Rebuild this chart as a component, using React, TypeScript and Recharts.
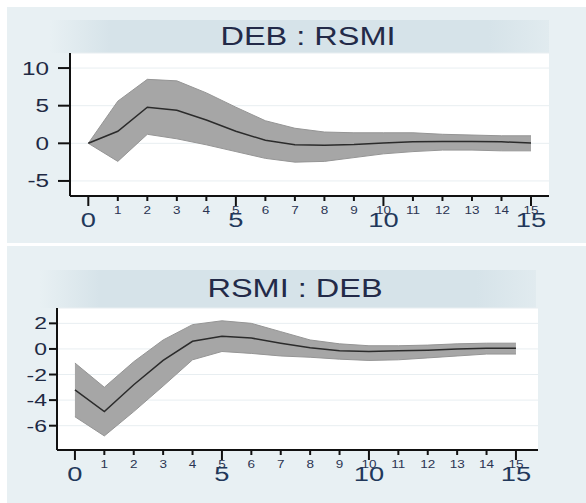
import React from 'react';
import { ComposedChart, Area, Line, XAxis, YAxis, CartesianGrid } from 'recharts';

// horizon (steps)
const periods = [0, 1, 2, 3, 4, 5, 6, 7, 8, 9, 10, 11, 12, 13, 14, 15];

// DEB : RSMI
const debRsmiIrf = [0, 1.6, 4.8, 4.4, 3.1, 1.6, 0.4, -0.2, -0.25, -0.15, 0.05, 0.2, 0.25, 0.25, 0.2, 0.05];
const debRsmiLow = [0, -2.4, 1.2, 0.6, -0.2, -1.1, -2.0, -2.5, -2.4, -1.9, -1.4, -1.1, -0.9, -0.9, -1.0, -1.0];
const debRsmiHigh = [0, 5.6, 8.5, 8.3, 6.7, 4.8, 3.0, 2.0, 1.5, 1.4, 1.4, 1.4, 1.2, 1.1, 1.0, 1.0];

// RSMI : DEB
const rsmiDebIrf = [-3.2, -4.9, -2.8, -0.9, 0.6, 1.0, 0.85, 0.45, 0.1, -0.15, -0.2, -0.15, -0.1, 0, 0.05, 0.05];
const rsmiDebLow = [-5.3, -6.8, -4.9, -2.9, -0.85, -0.2, -0.35, -0.55, -0.65, -0.8, -0.9, -0.85, -0.7, -0.55, -0.4, -0.4];
const rsmiDebHigh = [-1.1, -3.0, -1.0, 0.7, 1.9, 2.2, 2.0, 1.35, 0.7, 0.4, 0.25, 0.25, 0.3, 0.4, 0.45, 0.45];

const xTicks = periods;
const topYTicks = [-5, 0, 5, 10];
const bottomYTicks = [-6, -4, -2, 0, 2];

const buildRows = (irf: number[], low: number[], high: number[]) =>
  periods.map((t, i) => ({ t, irf: irf[i], band: [low[i], high[i]] }));

const topRows = buildRows(debRsmiIrf, debRsmiLow, debRsmiHigh);
const bottomRows = buildRows(rsmiDebIrf, rsmiDebLow, rsmiDebHigh);

const FONT = '"Liberation Sans", Arial, sans-serif';

const XTick = (props: any) => {
  const { x, y, payload } = props;
  const v = payload.value as number;
  const major = v % 5 === 0;
  return (
    <g>
      <line x1={x} x2={x} y1={y} y2={y + (major ? 10 : 5)} stroke="#111" strokeWidth={2} />
      {v !== 0 && (
        <text transform={`translate(${x},${y + 18}) scale(1.35,1)`} textAnchor="middle" fontSize={10} fill="#2b3452" fontFamily={FONT}>
          {v}
        </text>
      )}
      {major && (
        <text transform={`translate(${x},${y + 31}) scale(1.3,1)`} textAnchor="middle" fontSize={21} fill="#22385a" fontFamily={FONT}>
          {v}
        </text>
      )}
    </g>
  );
};

const makeYTick = (len: number, gap: number, fs: number) => (props: any) => {
  const { x, y, payload } = props;
  return (
    <g>
      <line x1={x - len} x2={x} y1={y} y2={y} stroke="#111" strokeWidth={2} />
      <text
        transform={`translate(${x - len - gap},${y + fs * 0.36}) scale(1.35,1)`}
        textAnchor="end"
        fontSize={fs}
        fill="#1f2a44"
        fontFamily={FONT}
      >
        {payload.value}
      </text>
    </g>
  );
};

const TopYTick = makeYTick(12, 9, 18);
const BottomYTick = makeYTick(8, 2, 17);

interface PanelProps {
  rows: any[];
  top: number;
  height: number;
  margin: { top: number; right: number; bottom: number; left: number };
  yWidth: number;
  xDomain: [number, number];
  yDomain: [number, number];
  yTicks: number[];
  yTick: any;
}

const IrfPanel: React.FC<PanelProps> = ({ rows, top, height, margin, yWidth, xDomain, yDomain, yTicks, yTick }) => (
  <div style={{ position: 'absolute', left: 0, top, width: 586, height }}>
    <ComposedChart width={586} height={height} data={rows} margin={margin}>
      <CartesianGrid vertical={false} stroke="#e8eef1" fill="#ffffff" />
      <XAxis
        dataKey="t"
        type="number"
        domain={xDomain}
        ticks={xTicks}
        interval={0}
        allowDataOverflow
        height={40}
        axisLine={{ stroke: '#111', strokeWidth: 2 }}
        tickLine={false}
        tickSize={0}
        tickMargin={0}
        tick={<XTick />}
      />
      <YAxis
        type="number"
        domain={yDomain}
        ticks={yTicks}
        interval={0}
        allowDataOverflow
        width={yWidth}
        axisLine={{ stroke: '#111', strokeWidth: 2 }}
        tickLine={false}
        tickSize={0}
        tickMargin={0}
        tick={yTick}
      />
      <Area
        dataKey="band"
        type="linear"
        fill="#a6a6a6"
        fillOpacity={1}
        stroke="#959595"
        strokeWidth={1}
        isAnimationActive={false}
      />
      <Line dataKey="irf" type="linear" stroke="#2b2b2b" strokeWidth={1.5} dot={false} isAnimationActive={false} />
    </ComposedChart>
  </div>
);

const bandStyle = (left: number, top: number, width: number, height: number): React.CSSProperties => ({
  position: 'absolute',
  left,
  top,
  width,
  height,
  background:
    'linear-gradient(to right, rgba(214,227,233,0) 0%, #d6e3e9 12%, #d6e3e9 88%, rgba(214,227,233,0.4) 100%)',
});

export default function App() {
  return (
    <div style={{ position: 'absolute', left: 0, top: 0, width: 586, height: 503, background: '#ffffff', overflow: 'hidden', fontFamily: FONT }}>
      <div style={{ position: 'absolute', left: 7, top: 7, width: 579, height: 236, background: '#e8f0f3' }} />
      <div style={{ position: 'absolute', left: 7, top: 246, width: 579, height: 257, background: '#e8f0f3' }} />
      <div style={bandStyle(50, 20, 499, 33)} />
      <div style={bandStyle(40, 270, 496, 38)} />

      <IrfPanel
        rows={topRows}
        top={0}
        height={243}
        margin={{ top: 53, right: 37, bottom: 7, left: 10 }}
        yWidth={60}
        xDomain={[-0.62, 15.61]}
        yDomain={[-7, 12]}
        yTicks={topYTicks}
        yTick={<TopYTick />}
      />
      <IrfPanel
        rows={bottomRows}
        top={245}
        height={258}
        margin={{ top: 63, right: 48, bottom: 13, left: 7 }}
        yWidth={50}
        xDomain={[-0.61, 15.75]}
        yDomain={[-7.9, 3.2]}
        yTicks={bottomYTicks}
        yTick={<BottomYTick />}
      />

      <svg width={586} height={503} style={{ position: 'absolute', left: 0, top: 0, pointerEvents: 'none' }}>
        <text transform="translate(308,45) scale(1.3,1)" textAnchor="middle" fontSize={25} fill="#232a48" fontFamily={FONT}>
          DEB : RSMI
        </text>
        <text transform="translate(295,297) scale(1.3,1)" textAnchor="middle" fontSize={25} fill="#232a48" fontFamily={FONT}>
          RSMI : DEB
        </text>
      </svg>
    </div>
  );
}
